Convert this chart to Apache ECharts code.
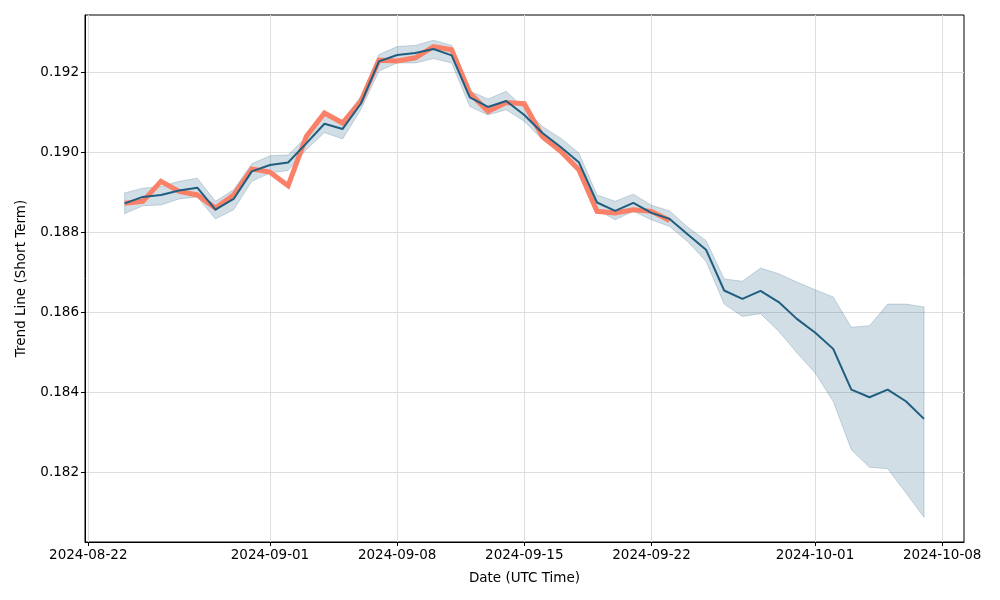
<!DOCTYPE html>
<html>
<head>
<meta charset="utf-8">
<script src="https://cdn.jsdelivr.net/npm/echarts@6/dist/echarts.min.js"></script>
<style>html,body{margin:0;padding:0;background:#fff;}#chart{width:1000px;height:600px;}</style>
</head>
<body>
<div id="chart"></div>
<script>
const dates = ['2024-08-24','2024-08-25','2024-08-26','2024-08-27','2024-08-28','2024-08-29','2024-08-30','2024-08-31',
'2024-09-01','2024-09-02','2024-09-03','2024-09-04','2024-09-05','2024-09-06','2024-09-07','2024-09-08','2024-09-09','2024-09-10',
'2024-09-11','2024-09-12','2024-09-13','2024-09-14','2024-09-15','2024-09-16','2024-09-17','2024-09-18','2024-09-19','2024-09-20',
'2024-09-21','2024-09-22','2024-09-23','2024-09-24','2024-09-25','2024-09-26','2024-09-27','2024-09-28','2024-09-29','2024-09-30',
'2024-10-01','2024-10-02','2024-10-03','2024-10-04','2024-10-05','2024-10-06','2024-10-07'];
const trend = [0.18872,0.18888,0.18893,0.18904,0.18911,0.18856,0.18883,0.18952,0.18968,0.18974,0.19022,0.19071,0.19058,0.19121,
0.19227,0.19243,0.19248,0.19258,0.19242,0.19137,0.19113,0.19128,0.19093,0.19048,0.19013,0.18975,0.18874,0.18853,0.18873,0.18848,
0.18833,0.18794,0.18756,0.18654,0.18633,0.18653,0.18625,0.18583,0.18549,0.18508,0.18406,0.18387,0.18406,0.18377,0.18333];
const upper = [0.18898,0.18910,0.18914,0.18927,0.18935,0.18877,0.18906,0.18971,0.18991,0.18993,0.19038,0.19093,0.19079,0.19139,
0.19244,0.19264,0.19267,0.19280,0.19267,0.19153,0.19133,0.19152,0.19110,0.19064,0.19035,0.18998,0.18893,0.18877,0.18895,0.18867,
0.18853,0.18812,0.18779,0.18683,0.18677,0.18710,0.18696,0.18675,0.18656,0.18638,0.18562,0.18566,0.18620,0.18620,0.18613];
const lower = [0.18846,0.18866,0.18868,0.18883,0.18888,0.18833,0.18856,0.18927,0.18948,0.18954,0.19006,0.19049,0.19033,0.19106,
0.19203,0.19223,0.19223,0.19234,0.19223,0.19114,0.19093,0.19106,0.19077,0.19031,0.18998,0.18956,0.18856,0.18831,0.18852,0.18831,
0.18814,0.18776,0.18727,0.18620,0.18589,0.18596,0.18552,0.18498,0.18448,0.18377,0.18256,0.18212,0.18208,0.18148,0.18087];
const actual = [0.18872,0.18877,0.18927,0.18902,0.18893,0.18860,0.18893,0.18958,0.18950,0.18916,0.19039,0.19098,0.19073,0.19127,
0.19230,0.19228,0.19236,0.19264,0.19256,0.19148,0.19102,0.19124,0.19121,0.19039,0.19002,0.18956,0.18852,0.18848,0.18856,0.18852,0.18829];
const xTickLabels = ['2024-08-22','2024-09-01','2024-09-08','2024-09-15','2024-09-22','2024-10-01','2024-10-08'];
const yTickValues = [0.182,0.184,0.186,0.188,0.190,0.192];

const DAY = 86400000;
const ts = d => Date.parse(d + 'T00:00:00Z');
const pad = n => (n < 10 ? '0' : '') + n;
const fmtDate = v => { const d = new Date(v); return d.getUTCFullYear() + '-' + pad(d.getUTCMonth() + 1) + '-' + pad(d.getUTCDate()); };

const bandData = dates.map((d, i) => [ts(d), lower[i], upper[i]]);
const trendData = dates.map((d, i) => [ts(d), trend[i]]);
const actualData = actual.map((v, i) => [ts(dates[i]), v]);
const xTickValues = xTickLabels.map(ts);

const font = 'DejaVu Sans';
const chart = echarts.init(document.getElementById('chart'), null, {renderer: 'canvas'});
chart.setOption({
  animation: false,
  backgroundColor: '#fff',
  grid: {left: 85, right: 36, top: 15, bottom: 58, show: true, borderColor: '#000', borderWidth: 1, backgroundColor: 'transparent'},
  xAxis: {
    type: 'value',
    scale: true,
    min: ts('2024-08-22') - 0.18 * DAY,
    max: ts('2024-10-08') + 1.2 * DAY,
    name: 'Date (UTC Time)', nameLocation: 'middle', nameGap: 29,
    nameTextStyle: {fontFamily: font, fontSize: 13.5, color: '#000'},
    axisLine: {show: true, onZero: false, lineStyle: {color: '#000', width: 1}},
    axisTick: {show: true, length: 4, customValues: xTickValues, lineStyle: {color: '#000'}},
    axisLabel: {customValues: xTickValues, formatter: v => fmtDate(v), fontFamily: font, fontSize: 13.5, color: '#000', margin: 6, hideOverlap: false, showMinLabel: true, showMaxLabel: true},
    splitLine: {show: true, lineStyle: {color: '#dedede', width: 1}}
  },
  yAxis: {
    type: 'value',
    scale: true,
    min: 0.18025, max: 0.19343,
    name: 'Trend Line (Short Term)', nameLocation: 'middle', nameGap: 57, nameRotate: 90,
    nameTextStyle: {fontFamily: font, fontSize: 13.5, color: '#000'},
    axisLine: {show: true, onZero: false, lineStyle: {color: '#000', width: 1}},
    axisTick: {show: true, length: 4, customValues: yTickValues, lineStyle: {color: '#000'}},
    axisLabel: {customValues: yTickValues, formatter: v => v.toFixed(3), fontFamily: font, fontSize: 13.5, color: '#000', margin: 6},
    splitLine: {show: true, lineStyle: {color: '#dedede', width: 1}}
  },
  series: [
    {type: 'custom', data: bandData, silent: true, z: 1, clip: true,
     encode: {x: 0, y: [1, 2]},
     renderItem: (params, api) => {
       if (params.dataIndex !== 0) return null;
       const top = bandData.map(r => api.coord([r[0], r[2]]));
       const bot = bandData.map(r => api.coord([r[0], r[1]])).reverse();
       return {type: 'polygon', shape: {points: top.concat(bot)},
               style: {fill: 'rgba(31,92,127,0.2)', stroke: 'rgba(31,92,127,0.22)', lineWidth: 1}};
     }},
    {type: 'line', data: actualData, symbol: 'none', silent: true,
     lineStyle: {color: '#fa8068', width: 5, join: 'miter'}, z: 2},
    {type: 'line', data: trendData, symbol: 'none', silent: true,
     lineStyle: {color: '#1f5e80', width: 2}, z: 3}
  ]
});
</script>
</body>
</html>
